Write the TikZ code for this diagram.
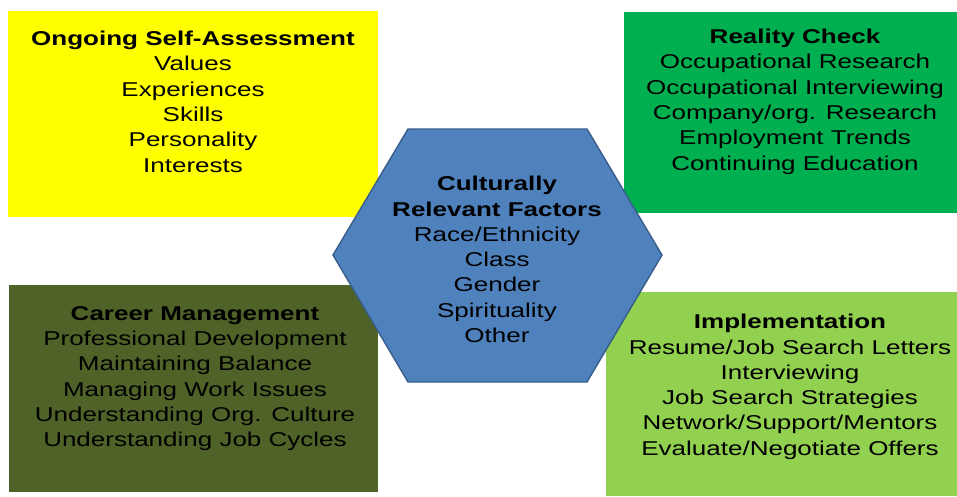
\documentclass[tikz,border=0pt]{standalone}
\usepackage{fontspec}
\setmainfont{Liberation Sans}[FakeStretch=1.30]
\usepackage{tikz}
\definecolor{selfFill}{RGB}{255,255,0}
\definecolor{realFill}{RGB}{0,176,80}
\definecolor{mgmtFill}{RGB}{79,98,40}
\definecolor{implFill}{RGB}{146,208,80}
\definecolor{hexFill}{RGB}{79,129,189}
\definecolor{hexEdge}{RGB}{56,93,138}

\begin{document}
\begin{tikzpicture}[
    x=1pt, y=-1pt,
    panel/.style={rectangle, draw=none, inner sep=0pt},
    hexa/.style={fill=hexFill, draw=hexEdge, line width=1.4pt, line join=miter},
    itemtext/.style={align=center, inner sep=0pt, anchor=north, text=black, font=\fontsize{20}{25.3}\selectfont},
]
\useasboundingbox[fill=white] (0,0) rectangle (957,496);

% ========== CORNER PANELS ==========
\node[panel, fill=selfFill, minimum width=370pt, minimum height=206pt] at (193,114) (selfbox) {};
\node[panel, fill=realFill, minimum width=333pt, minimum height=201pt] at (790.5,112.5) (realbox) {};
\node[panel, fill=mgmtFill, minimum width=369pt, minimum height=207pt] at (193.5,388.5) (mgmtbox) {};
\node[panel, fill=implFill, minimum width=351pt, minimum height=204pt] at (781.5,394) (implbox) {};

% ========== CENTRE HEXAGON (drawn over the panels) ==========
\draw[hexa] (408,129) -- (587,129) -- (662,255) -- (587,382) -- (408,382) -- (333,255) -- cycle;

% ========== TEXTS ==========
\node[itemtext] at (193,31) (selftext) {\textbf{Ongoing Self-Assessment}\\Values\\Experiences\\Skills\\Personality\\Interests};
\node[itemtext] at (795,29) (realtext) {\textbf{Reality Check}\\Occupational Research\\Occupational Interviewing\\Company/org. Research\\Employment Trends\\Continuing Education};
\node[itemtext] at (497,176) (culttext) {\textbf{Culturally}\\\textbf{Relevant Factors}\\Race/Ethnicity\\Class\\Gender\\Spirituality\\Other};
\node[itemtext] at (195,306) (mgmttext) {\textbf{Career Management}\\Professional Development\\Maintaining Balance\\Managing Work Issues\\Understanding Org. Culture\\Understanding Job Cycles};
\node[itemtext] at (790,314) (impltext) {\textbf{Implementation}\\Resume/Job Search Letters\\Interviewing\\Job Search Strategies\\Network/Support/Mentors\\Evaluate/Negotiate Offers};

\end{tikzpicture}
\end{document}
